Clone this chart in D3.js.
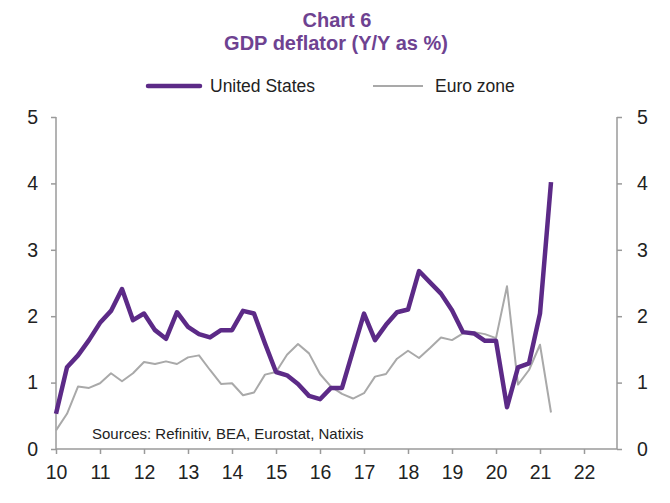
<!DOCTYPE html>
<html><head><meta charset="utf-8">
<script src="https://cdn.jsdelivr.net/npm/d3@7"></script>
<style>body{margin:0;background:#fff;} svg{display:block;font-family:"Liberation Sans",Arial,sans-serif;}</style>
</head><body>
<svg id="c" width="670" height="503"></svg>
<script>
// Quarterly data, 2010 Q1 .. 2021 Q2
const startYear = 2010;
const usValues = [0.53,1.23,1.41,1.64,1.90,2.08,2.41,1.94,2.04,1.79,1.66,2.06,1.84,1.73,1.68,1.79,
  1.79,2.08,2.04,1.59,1.16,1.11,0.98,0.80,0.75,0.92,0.92,1.48,2.04,1.64,1.87,2.06,
  2.10,2.68,2.51,2.34,2.09,1.76,1.74,1.63,1.63,0.63,1.23,1.29,2.04,4.02];
const ezValues = [0.28,0.53,0.94,0.92,0.99,1.14,1.02,1.14,1.31,1.28,1.32,1.28,1.38,1.41,1.19,0.98,
  0.99,0.81,0.85,1.12,1.16,1.42,1.58,1.44,1.13,0.94,0.83,0.76,0.84,1.09,1.13,1.36,
  1.48,1.37,1.52,1.68,1.64,1.74,1.76,1.73,1.67,2.45,0.97,1.19,1.57,0.55];
const yearTicks = [2010,2011,2012,2013,2014,2015,2016,2017,2018,2019,2020,2021,2022];
const yTicks = [0,1,2,3,4,5];
const seriesNames = ["United States","Euro zone"];

const svg = d3.select("#c");
const purple = "#5c2a87", grey = "#a9a9a9", axisCol = "#9a9a9a", textCol = "#222";
const titleCol = "#6e4291";
const x = d3.scaleLinear().domain([2010, 2022.75]).range([56, 617]);
const y = d3.scaleLinear().domain([0, 5]).range([449, 117]);
const t = i => startYear + i / 4;

// Title
svg.append("text").attr("x", 337).attr("y", 27).attr("text-anchor","middle")
  .attr("font-size", 20).attr("font-weight","bold").attr("fill", titleCol).text("Chart 6");
svg.append("text").attr("x", 336).attr("y", 50).attr("text-anchor","middle")
  .attr("font-size", 20).attr("font-weight","bold").attr("fill", titleCol).text("GDP deflator (Y/Y as %)");

// Legend
svg.append("line").attr("x1",148).attr("x2",200).attr("y1",86).attr("y2",86)
  .attr("stroke",purple).attr("stroke-width",4.5).attr("stroke-linecap","round");
svg.append("text").attr("x",210).attr("y",92).attr("font-size",17.5).attr("fill",textCol).text(seriesNames[0]);
svg.append("line").attr("x1",373).attr("x2",423).attr("y1",86).attr("y2",86)
  .attr("stroke",grey).attr("stroke-width",2);
svg.append("text").attr("x",435).attr("y",92).attr("font-size",17.5).attr("fill",textCol).text(seriesNames[1]);

// Axes
const xAxis = d3.axisBottom(x).tickValues(yearTicks).tickSize(5).tickFormat(d => String(d).slice(2));
const gx = svg.append("g").attr("transform",`translate(0,${y(0)})`).call(xAxis);
const yL = svg.append("g").attr("transform",`translate(${x.range()[0]},0)`).call(d3.axisLeft(y).tickValues(yTicks).tickSize(5).tickFormat(d3.format("d")));
const yR = svg.append("g").attr("transform",`translate(${x.range()[1]},0)`).call(d3.axisRight(y).tickValues(yTicks).tickSize(5).tickFormat(d3.format("d")));
[gx, yL, yR].forEach(g => {
  g.select(".domain").attr("stroke", axisCol).attr("stroke-width", 1.5);
  g.selectAll(".tick line").attr("stroke", axisCol).attr("stroke-width", 1.5);
  g.selectAll(".tick text").attr("fill", textCol).attr("font-size", 19.5)
   .attr("font-family", '"Liberation Sans",Arial,sans-serif');
});
gx.select(".domain").attr("d", `M${x.range()[0]},0H${x.range()[1]}`);
yL.select(".domain").attr("d", `M0,${y(0)}V${y(5)}`);
yR.select(".domain").attr("d", `M0,${y(0)}V${y(5)}`);
gx.selectAll(".tick text").attr("y", 16.5);
yL.selectAll(".tick text").attr("x", -18);
yR.selectAll(".tick text").attr("x", 20);

// Lines
const line = d3.line().x((d,i) => x(t(i))).y(d => y(d));
svg.append("path").datum(ezValues).attr("d", line).attr("fill","none")
  .attr("stroke", grey).attr("stroke-width", 2).attr("stroke-linejoin","round");
svg.append("path").datum(usValues).attr("d", line).attr("fill","none")
  .attr("stroke", purple).attr("stroke-width", 4.5).attr("stroke-linejoin","round");

// Sources
svg.append("text").attr("x", 92).attr("y", 439).attr("font-size", 15).attr("fill", textCol)
  .text("Sources: Refinitiv, BEA, Eurostat, Natixis");
</script>
</body></html>
